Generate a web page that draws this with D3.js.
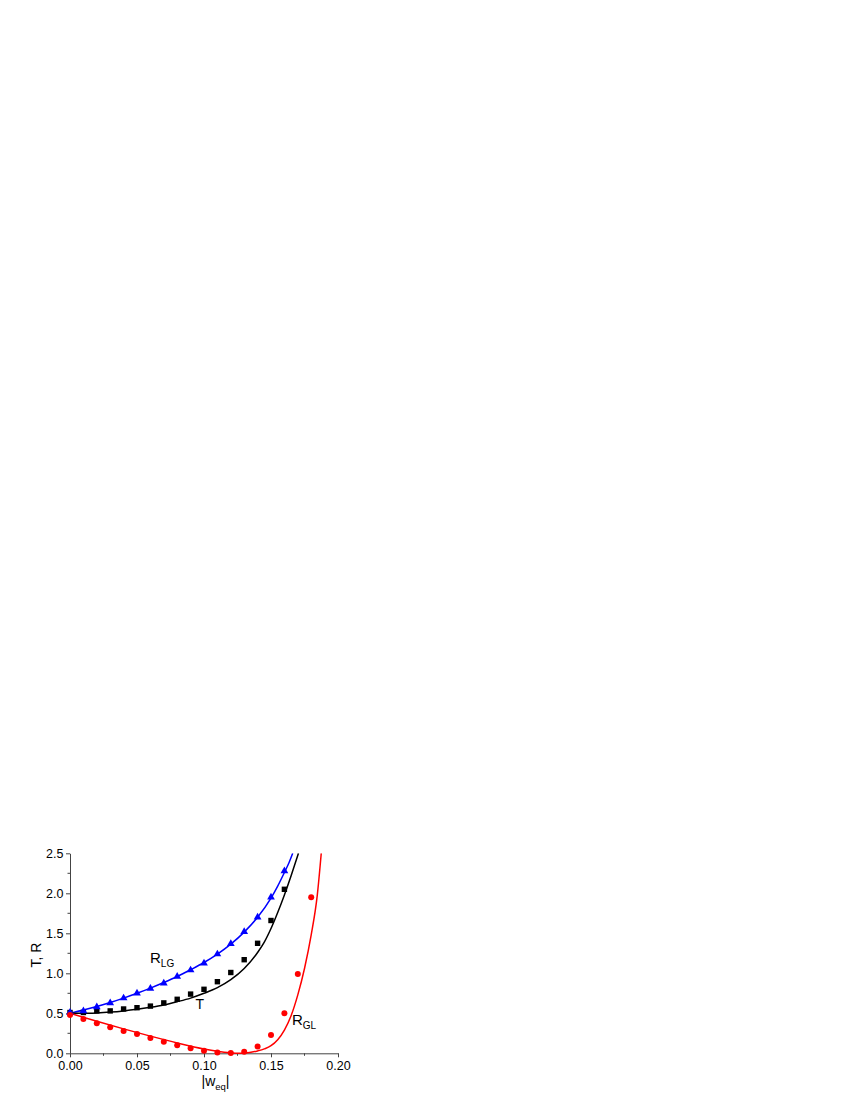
<!DOCTYPE html>
<html>
<head>
<meta charset="utf-8">
<script src="https://cdn.jsdelivr.net/npm/d3@7"></script>
<style>
  html, body { margin: 0; padding: 0; background: #fff; }
  svg { display: block; }
  text { font-family: Arial, "Liberation Sans", sans-serif; }
</style>
</head>
<body>
<svg id="chart" width="850" height="1100"></svg>
<script>
// ---- data ----
const xPoints = [0.00,0.01,0.02,0.03,0.04,0.05,0.06,0.07,0.08,0.09,0.10,0.11,0.12,0.13,0.14,0.15,0.16];
const rlgMarkers = [0.51,0.53,0.58,0.63,0.69,0.75,0.81,0.875,0.96,1.04,1.125,1.24,1.37,1.52,1.70,1.95,2.28];
const tMarkers   = [0.51,0.51,0.53,0.53,0.554,0.57,0.59,0.63,0.675,0.74,0.80,0.895,1.01,1.17,1.375,1.66,2.05];
const xPointsGL  = [0.00,0.01,0.02,0.03,0.04,0.05,0.06,0.07,0.08,0.09,0.10,0.11,0.12,0.13,0.14,0.15,0.16,0.17,0.18];
const rglMarkers = [0.48,0.43,0.375,0.325,0.28,0.24,0.19,0.145,0.10,0.062,0.033,0.01,0.005,0.02,0.085,0.23,0.50,0.99,1.95];

const rlgLineX = [0,0.01,0.02,0.03,0.04,0.05,0.06,0.07,0.08,0.09,0.10,0.11,0.12,0.13,0.14,0.15,0.155,0.16,0.1635,0.1662];
const rlgLineY = [0.50,0.54,0.585,0.635,0.69,0.75,0.815,0.885,0.96,1.045,1.135,1.24,1.365,1.515,1.70,1.94,2.09,2.26,2.385,2.5];
const tLineX = [0,0.01,0.02,0.03,0.04,0.05,0.06,0.07,0.08,0.09,0.10,0.11,0.12,0.13,0.14,0.145,0.15,0.155,0.16,0.165,0.1705];
const tLineY = [0.50,0.50,0.505,0.515,0.53,0.55,0.575,0.605,0.645,0.69,0.75,0.82,0.92,1.06,1.26,1.39,1.56,1.76,1.98,2.22,2.5];
const rglLineX = [0,0.02,0.04,0.06,0.08,0.10,0.11,0.12,0.125,0.13,0.135,0.14,0.145,0.15,0.155,0.16,0.165,0.17,0.175,0.18,0.1845,0.1875];
const rglLineY = [0.50,0.40,0.305,0.215,0.13,0.055,0.027,0.007,0.0,0.003,0.012,0.03,0.055,0.095,0.17,0.29,0.47,0.73,1.06,1.48,1.97,2.5];

const xTicks = [0.00,0.05,0.10,0.15,0.20];
const xMinor = [0.025,0.075,0.125,0.175];
const yTicks = [0.0,0.5,1.0,1.5,2.0,2.5];
const yMinor = [0.25,0.75,1.25,1.75,2.25];

// ---- layout ----
const svg = d3.select("#chart");
const x = d3.scaleLinear().domain([0, 0.2]).range([70, 338]);
const y = d3.scaleLinear().domain([0, 2.5]).range([1053.3, 853.3]);

const axisColor = "#444";

// axes
const gx = svg.append("g").attr("transform", `translate(0,${y(0)})`)
  .call(d3.axisBottom(x).tickValues(xTicks).tickFormat(d3.format(".2f")).tickSize(4).tickSizeOuter(0));
gx.append("g").selectAll("line").data(xMinor).join("line")
  .attr("x1", d => x(d)).attr("x2", d => x(d)).attr("y1", 0).attr("y2", 2.5).attr("stroke", axisColor);
const gy = svg.append("g").attr("transform", `translate(${x(0)},0)`)
  .call(d3.axisLeft(y).tickValues(yTicks).tickFormat(d3.format(".1f")).tickSize(4).tickSizeOuter(0));
gy.append("g").selectAll("line").data(yMinor).join("line")
  .attr("y1", d => y(d)).attr("y2", d => y(d)).attr("x1", 0).attr("x2", -2.5).attr("stroke", axisColor);

[gx, gy].forEach(g => {
  g.select(".domain").attr("stroke", axisColor).attr("stroke-width", 1);
  g.selectAll(".tick line").attr("stroke", axisColor);
  g.selectAll("text").attr("fill", "#000").style("font-size", "12.5px")
   .style("font-family", "Arial, 'Liberation Sans', sans-serif");
});
gx.selectAll(".tick text").attr("dy", "0.71em").attr("y", 8);
gy.selectAll(".tick text").attr("x", -6.5);

// clip
svg.append("clipPath").attr("id", "clip").append("rect")
  .attr("x", x(0)).attr("y", y(2.5)).attr("width", x(0.2) - x(0)).attr("height", y(0) - y(2.5) + 1);

const line = d3.line().x(d => x(d[0])).y(d => y(d[1])).curve(d3.curveMonotoneX);
const plot = svg.append("g").attr("clip-path", "url(#clip)");

plot.append("path").datum(d3.zip(rlgLineX, rlgLineY)).attr("d", line)
  .attr("fill", "none").attr("stroke", "#0000ff").attr("stroke-width", 1.5);
plot.append("path").datum(d3.zip(tLineX, tLineY)).attr("d", line)
  .attr("fill", "none").attr("stroke", "#000").attr("stroke-width", 1.5);
plot.append("path").datum(d3.zip(rglLineX, rglLineY)).attr("d", line)
  .attr("fill", "none").attr("stroke", "#ff0000").attr("stroke-width", 1.5);

const markers = svg.append("g");
// squares
markers.selectAll("rect.t").data(d3.zip(xPoints, tMarkers)).join("rect")
  .attr("class", "t")
  .attr("x", d => x(d[0]) - 2.7).attr("y", d => y(d[1]) - 2.7)
  .attr("width", 5.4).attr("height", 5.4).attr("fill", "#000");
// triangles
const tri = d3.symbol().type(d3.symbolTriangle).size(26);
markers.selectAll("path.rlg").data(d3.zip(xPoints, rlgMarkers)).join("path")
  .attr("class", "rlg")
  .attr("transform", d => `translate(${x(d[0])},${y(d[1])})`)
  .attr("d", tri).attr("fill", "#0000ff");
// circles
markers.selectAll("circle.rgl").data(d3.zip(xPointsGL, rglMarkers)).join("circle")
  .attr("class", "rgl")
  .attr("cx", d => x(d[0])).attr("cy", d => y(d[1])).attr("r", 3).attr("fill", "#ff0000");

// curve labels
function subLabel(px, py, main, sub, size, subSize) {
  const t = svg.append("text").attr("x", px).attr("y", py)
    .style("font-size", size + "px").attr("fill", "#000");
  t.append("tspan").text(main);
  if (sub) t.append("tspan").attr("dy", 4).style("font-size", subSize + "px").text(sub);
}
subLabel(150, 962.5, "R", "LG", 15, 10);
subLabel(195.5, 1008.5, "T", null, 14, 10);
subLabel(292, 1025, "R", "GL", 15, 10);

// axis titles
svg.append("text").attr("transform", `translate(40.5,955) rotate(-90)`)
  .attr("text-anchor", "middle").style("font-size", "14px").text("T, R");
const xt = svg.append("text").attr("x", 201.5).attr("y", 1086).style("font-size", "14px");
xt.append("tspan").text("|w");
xt.append("tspan").attr("dy", 4).style("font-size", "9.5px").text("eq");
xt.append("tspan").attr("dy", -4).text("|");
</script>
</body>
</html>
